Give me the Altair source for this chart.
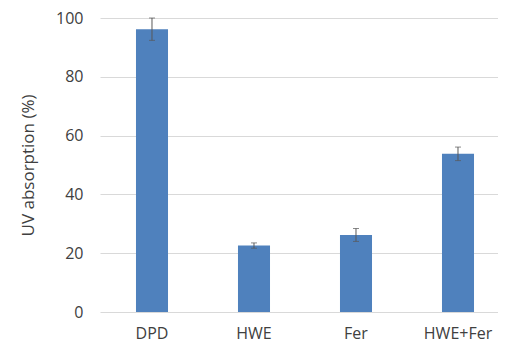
import altair as alt
import pandas as pd

categories = ["DPD", "HWE", "Fer", "HWE+Fer"]
values = [96.2, 22.6, 26.2, 53.8]
errors = [3.8, 0.9, 2.2, 2.3]

df = pd.DataFrame({
    "cat": categories,
    "val": values,
    "lo": [v - e for v, e in zip(values, errors)],
    "hi": [v + e for v, e in zip(values, errors)],
})

FONT = "Open Sans"
TXT = "#404040"
xenc = alt.X("cat:N", sort=categories, title=None,
             scale=alt.Scale(paddingInner=0.686, paddingOuter=0.294, align=0.6),
             axis=alt.Axis(labelAngle=0, labelFontSize=16, labelColor=TXT,
                           labelFont=FONT, ticks=False, domain=False, grid=False,
                           labelPadding=13))

bars = alt.Chart(df).mark_bar(color="#4F81BD").encode(
    x=xenc,
    y=alt.Y("val:Q", title="UV absorption (%)",
            scale=alt.Scale(domain=[0, 100], nice=False),
            axis=alt.Axis(values=[0, 20, 40, 60, 80, 100], ticks=False, domain=False,
                          gridColor="#D9D9D9", gridWidth=1.2,
                          labelFontSize=16, labelColor=TXT, labelFont=FONT,
                          labelPadding=17, titleFontSize=17, titleFont=FONT,
                          titleColor=TXT, titleFontWeight="normal",
                          titlePadding=18)),
)

xs = alt.X("cat:N", sort=categories)
rule = alt.Chart(df).mark_rule(color="#595959", strokeWidth=1).encode(
    x=xs, y="lo:Q", y2="hi:Q")
cap_lo = alt.Chart(df).mark_tick(color="#595959", thickness=1, size=6).encode(
    x=xs, y="lo:Q")
cap_hi = alt.Chart(df).mark_tick(color="#595959", thickness=1, size=6).encode(
    x=xs, y="hi:Q")

chart = (bars + rule + cap_lo + cap_hi).properties(
    width=398, height=294,
    autosize=alt.AutoSizeParams(type="none"),
    padding={"left": 92, "top": 10, "right": 0, "bottom": 34},
).configure_view(stroke=None)

chart.save("out.html", embed_options={"renderer": "svg", "actions": False})
